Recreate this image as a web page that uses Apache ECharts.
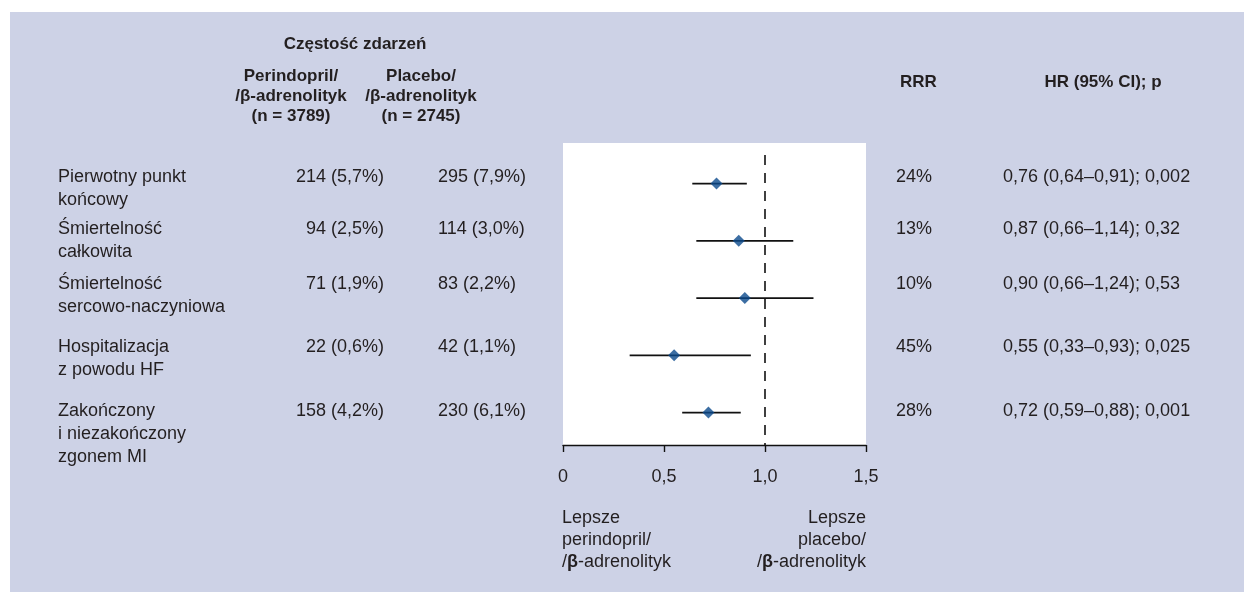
<!DOCTYPE html>
<html>
<head>
<meta charset="utf-8">
<script src="https://cdn.jsdelivr.net/npm/echarts@6/dist/echarts.min.js"></script>
<style>
  html, body { margin: 0; padding: 0; background: #fff; }
  #panel { position: absolute; left: 10px; top: 12px; width: 1234px; height: 580px; background: #cdd2e6; }
  #chart { position: absolute; left: 0; top: 0; width: 1244px; height: 592px; }
</style>
</head>
<body>
<div id="panel"></div>
<div id="chart"></div>
<script>
// Outcomes (one row each)
const outcomes = [
  'Pierwotny punkt\nkońcowy',
  'Śmiertelność\ncałkowita',
  'Śmiertelność\nsercowo-naczyniowa',
  'Hospitalizacja\nz powodu HF',
  'Zakończony\ni niezakończony\nzgonem MI'
];
// Group sizes
const armN = [3789, 2745];
// Event counts and rates (%), perindopril/β-blocker arm
const perEvents = [214, 94, 71, 22, 158];
const perPct = [5.7, 2.5, 1.9, 0.6, 4.2];
// Event counts and rates (%), placebo/β-blocker arm
const plcEvents = [295, 114, 83, 42, 230];
const plcPct = [7.9, 3.0, 2.2, 1.1, 6.1];
// Relative risk reduction (%)
const rrr = [24, 13, 10, 45, 28];
// Hazard ratios with 95% CI and p values
const hr = [0.76, 0.87, 0.90, 0.55, 0.72];
const ciLow = [0.64, 0.66, 0.66, 0.33, 0.59];
const ciHigh = [0.91, 1.14, 1.24, 0.93, 0.88];
const pValues = [0.002, 0.32, 0.53, 0.025, 0.001];
// HR axis ticks
const xTicks = [0, 0.5, 1.0, 1.5];

// ---- formatting helpers (Polish decimal comma) ----
const dec = (v, d) => v.toFixed(d).replace('.', ',');
const pStr = v => String(v).replace('.', ',');

// ---- layout ----
const FONT = '"Liberation Sans", Arial, sans-serif';
const FS = 18;       // body text
const FS_B = 17;     // bold headers
const TXT = '#231f20';
const ROW_Y = [177, 229, 284, 347, 411];   // first-line centre of each table row
const LINE_H = 23;

const chart = echarts.init(document.getElementById('chart'), null, { renderer: 'canvas' });

function txt(x, y, text, align, opts) {
  opts = opts || {};
  const size = opts.bold ? FS_B : FS;
  return {
    type: 'text', x: x, y: y, silent: true,
    style: {
      text: text, fill: TXT,
      font: (opts.bold ? 'bold ' : '') + size + 'px ' + FONT,
      align: align, verticalAlign: 'top',
      lineHeight: opts.lh || LINE_H
    }
  };
}

const graphics = [];
// header
graphics.push(txt(355, 44 - 11, 'Częstość zdarzeń', 'center', { bold: true, lh: 22 }));
graphics.push(txt(291, 76 - 10, 'Perindopril/\n/β-adrenolityk\n(n = ' + armN[0] + ')', 'center', { bold: true, lh: 20 }));
graphics.push(txt(421, 76 - 10, 'Placebo/\n/β-adrenolityk\n(n = ' + armN[1] + ')', 'center', { bold: true, lh: 20 }));
graphics.push(txt(900, 82 - 11, 'RRR', 'left', { bold: true, lh: 22 }));
graphics.push(txt(1103, 82 - 11, 'HR (95% CI); p', 'center', { bold: true, lh: 22 }));

// table rows
outcomes.forEach((name, i) => {
  const top = ROW_Y[i] - LINE_H / 2;
  graphics.push(txt(58, top, name, 'left'));
  graphics.push(txt(384, top, perEvents[i] + ' (' + dec(perPct[i], 1) + '%)', 'right'));
  graphics.push(txt(438, top, plcEvents[i] + ' (' + dec(plcPct[i], 1) + '%)', 'left'));
  graphics.push(txt(896, top, rrr[i] + '%', 'left'));
  graphics.push(txt(1003, top,
    dec(hr[i], 2) + ' (' + dec(ciLow[i], 2) + '–' + dec(ciHigh[i], 2) + '); ' + pStr(pValues[i]), 'left'));
});

// favour notes under the axis
const rich = {
  n: { fontFamily: FONT, fontSize: FS, fill: TXT, lineHeight: 22 },
  b: { fontFamily: FONT, fontSize: FS, fontWeight: 'bold', fill: TXT, lineHeight: 22 }
};
graphics.push({
  type: 'text', x: 562, y: 518 - 11, silent: true,
  style: { text: '{n|Lepsze}\n{n|perindopril/}\n{n|/}{b|β}{n|-adrenolityk}', rich: rich,
           align: 'left', verticalAlign: 'top', fill: TXT, font: FS + 'px ' + FONT }
});
graphics.push({
  type: 'text', x: 866, y: 518 - 11, silent: true,
  style: { text: '{n|Lepsze}\n{n|placebo/}\n{n|/}{b|β}{n|-adrenolityk}', rich: rich,
           align: 'right', verticalAlign: 'top', fill: TXT, font: FS + 'px ' + FONT }
});

const rowIdx = outcomes.map((_, i) => i);

chart.setOption({
  animation: false,
  backgroundColor: 'transparent',
  textStyle: { fontFamily: FONT },
  grid: [
    // white plotting panel
    { left: 563, top: 143, width: 303, height: 302, show: true, backgroundColor: '#ffffff', borderWidth: 0 },
    // data area
    { left: 563, top: 155, width: 303, height: 290, show: false }
  ],
  xAxis: [
    { gridIndex: 0, type: 'value', min: 0, max: 1.5, show: false },
    {
      gridIndex: 1, type: 'value', min: xTicks[0], max: xTicks[xTicks.length - 1], interval: 0.5,
      axisLine: { show: true, onZero: false, lineStyle: { color: '#111', width: 1.4 } },
      axisTick: { show: true, length: 7, inside: false, lineStyle: { color: '#111', width: 1.4 } },
      splitLine: { show: false },
      axisLabel: {
        margin: 23, fontSize: FS, color: TXT, fontFamily: FONT,
        formatter: v => (v === 0 ? '0' : dec(v, 1))
      }
    }
  ],
  yAxis: [
    { gridIndex: 0, type: 'value', show: false },
    { gridIndex: 1, type: 'value', inverse: true, min: -0.5, max: 4.566, show: false }
  ],
  series: [
    {
      // confidence intervals
      type: 'custom', xAxisIndex: 1, yAxisIndex: 1,
      data: rowIdx.map(i => [ciLow[i], ciHigh[i], i]),
      encode: { x: [0, 1], y: 2 },
      renderItem: function (params, api) {
        const a = api.coord([api.value(0), api.value(2)]);
        const b = api.coord([api.value(1), api.value(2)]);
        return {
          type: 'line',
          shape: { x1: a[0], y1: a[1], x2: b[0], y2: b[1] },
          style: { stroke: '#111', lineWidth: 1.7 }
        };
      },
      markLine: {
        silent: true, symbol: 'none', label: { show: false },
        lineStyle: { color: '#111', type: [10, 8], width: 1.6 },
        data: [{ xAxis: 1 }]
      },
      z: 2
    },
    {
      // hazard ratio points
      type: 'scatter', xAxisIndex: 1, yAxisIndex: 1,
      symbol: 'diamond', symbolSize: 12,
      itemStyle: { color: '#0b4a8c' },
      data: rowIdx.map(i => [hr[i], i]),
      z: 3
    }
  ],
  graphic: graphics
});
</script>
</body>
</html>
